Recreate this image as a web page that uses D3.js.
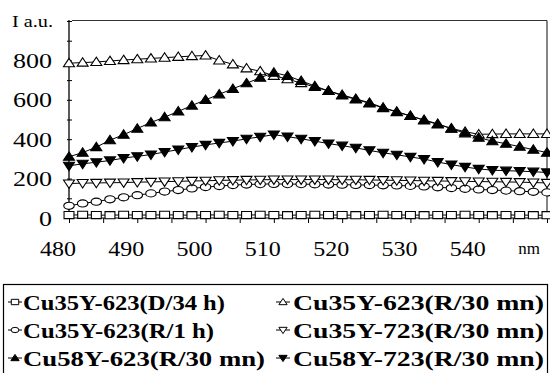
<!DOCTYPE html>
<html>
<head>
<meta charset="utf-8">
<script src="https://cdn.jsdelivr.net/npm/d3@7"></script>
<style>
  body { margin: 0; background: #fff; }
</style>
</head>
<body>
<div id="chart"></div>
<script>
// wavelengths (nm), one point every 2 nm
const wavelengths = [480, 482, 484, 486, 488, 490, 492, 494, 496, 498, 500, 502, 504, 506, 508, 510, 512, 514,
  516, 518, 520, 522, 524, 526, 528, 530, 532, 534, 536, 538, 540, 542, 544, 546, 548, 550];

// intensities (a.u.)
const cu35_623_D34h = [15, 16, 15, 14, 16, 15, 15, 16, 15, 14, 15, 16, 15, 15, 16, 15, 14, 15,
  16, 15, 15, 14, 15, 16, 15, 15, 14, 15, 15, 16, 15, 14, 15, 15, 14, 14];
const cu35_623_R1h = [62, 74, 83, 95, 105, 116, 125, 134, 142, 150, 157, 162, 167, 170, 172, 173, 172, 172,
  171, 170, 169, 168, 167, 166, 165, 163, 160, 156, 152, 148, 145, 142, 139, 136, 133, 130];
const cu35_723_R30 = [175, 177, 178, 179, 180, 182, 183, 185, 186, 188, 189, 191, 192, 193, 194, 195, 195, 195,
  195, 195, 194, 194, 193, 192, 191, 190, 189, 188, 187, 186, 185, 184, 183, 182, 180, 178];
const cu58_723_R30 = [265, 275, 283, 292, 304, 313, 322, 335, 347, 360, 371, 381, 390, 402, 412, 423, 413, 402,
  390, 378, 367, 356, 343, 331, 321, 310, 299, 284, 271, 259, 249, 243, 240, 238, 235, 231];
const cu35_623_R30 = [786, 789, 792, 797, 802, 806, 810, 814, 818, 822, 825, 800, 780, 760, 745, 722, 705, 685,
  665, 645, 625, 605, 585, 560, 540, 518, 496, 475, 455, 438, 425, 426, 427, 427, 427, 427];
const cu58_623_R30 = [311, 332, 360, 395, 423, 454, 485, 512, 541, 571, 600, 628, 656, 684, 712, 738, 722, 696,
  670, 645, 622, 602, 582, 558, 538, 518, 498, 478, 454, 430, 408, 390, 377, 362, 347, 332];

const xTicks = [480, 490, 500, 510, 520, 530, 540];
const yTicks = [0, 200, 400, 600, 800];

const series = [
  { name: "Cu35Y-623(D/34 h)", values: cu35_623_D34h, shape: "square", fill: "#fff", col: 0, row: 0, w: 202 },
  { name: "Cu35Y-623(R/1 h)", values: cu35_623_R1h, shape: "circle", fill: "#fff", col: 0, row: 1, w: 191 },
  { name: "Cu35Y-723(R/30 mn)", values: cu35_723_R30, shape: "down", fill: "#fff", col: 1, row: 1, w: 251 },
  { name: "Cu58Y-723(R/30 mn)", values: cu58_723_R30, shape: "down", fill: "#000", col: 1, row: 2, w: 251 },
  { name: "Cu35Y-623(R/30 mn)", values: cu35_623_R30, shape: "up", fill: "#fff", col: 1, row: 0, w: 251 },
  { name: "Cu58Y-623(R/30 mn)", values: cu58_623_R30, shape: "up", fill: "#000", col: 0, row: 2, w: 242 }
];

const W = 550, H = 373;
const FONT = '"Liberation Serif"';
const svg = d3.select('#chart').append('svg')
  .attr('width', W)
  .attr('height', H);

const x = d3.scaleLinear().domain([480, 550]).range([69, 547]);
const y = d3.scaleLinear().domain([0, 1000]).range([218, 21]);

// marker shapes, k = size factor
function markerPath(shape, k) {
  const w = 5.5 * k, h = 4.2 * k;
  if (shape === "up") return `M0,${-h * 1.15}L${w},${h * 0.85}L${-w},${h * 0.85}Z`;
  if (shape === "down") return `M0,${h * 1.15}L${w},${-h * 0.85}L${-w},${-h * 0.85}Z`;
  if (shape === "square") return `M${-w * 0.9},${-h * 0.85}h${w * 1.8}v${h * 1.7}h${-w * 1.8}Z`;
  // ellipse
  const rx = w * 0.95, ry = h * 0.85;
  return `M${-rx},0a${rx},${ry} 0 1,0 ${2 * rx},0a${rx},${ry} 0 1,0 ${-2 * rx},0Z`;
}

// frame
svg.append('line').attr('x1', 72).attr('x2', 547).attr('y1', 20.5).attr('y2', 20.5)
  .style('stroke', '#333').style('stroke-width', 1.2);
svg.append('line').attr('x1', 547).attr('x2', 547).attr('y1', 20.5).attr('y2', 218)
  .style('stroke', '#333').style('stroke-width', 1.2);

// axes
const yAxis = d3.axisLeft(y).tickValues(d3.range(0, 1001, 100)).tickSize(3).tickFormat('');
svg.append('g').attr('transform', 'translate(69,0)').call(yAxis)
  .call(g => g.selectAll('line').attr('x2', 3).attr('x1', -2))
  .call(g => g.select('.domain').remove());
svg.append('line').attr('x1', 69).attr('x2', 69).attr('y1', 20).attr('y2', 218)
  .style('stroke', '#000').style('stroke-width', 1.3);

const xAxis = d3.axisBottom(x).tickValues(d3.range(480, 551, 5)).tickSize(5).tickFormat('');
svg.append('g').attr('transform', 'translate(0,218)').call(xAxis)
  .call(g => g.select('.domain').remove());
svg.append('line').attr('x1', 69).attr('x2', 547).attr('y1', 218).attr('y2', 218)
  .style('stroke', '#000').style('stroke-width', 1.2);

// tick labels
svg.append('g').selectAll('text')
  .data(yTicks)
  .join('text')
  .attr('x', 52)
  .attr('y', d => y(d) + 7.5)
  .attr('text-anchor', 'end')
  .attr('textLength', d => String(d).length * 13)
  .attr('lengthAdjust', 'spacingAndGlyphs')
  .style('font-family', FONT)
  .style('font-size', '21px')
  .text(d => d);

svg.append('g').selectAll('text')
  .data(xTicks)
  .join('text')
  .attr('x', d => x(d) - 11)
  .attr('y', 256)
  .attr('text-anchor', 'middle')
  .attr('textLength', 36)
  .attr('lengthAdjust', 'spacingAndGlyphs')
  .style('font-family', FONT)
  .style('font-size', '21px')
  .text(d => d);

svg.append('text').attr('x', 529).attr('y', 254).attr('text-anchor', 'middle')
  .style('font-family', FONT).style('font-size', '17px').text('nm');
svg.append('text').attr('x', 12).attr('y', 27)
  .attr('textLength', 41).attr('lengthAdjust', 'spacingAndGlyphs')
  .style('font-family', FONT).style('font-size', '16px').text('I a.u.');

// series lines + markers
const line = d3.line().x((d, i) => x(wavelengths[i])).y(d => y(d));
series.forEach(s => {
  svg.append('path')
    .datum(s.values)
    .attr('d', line)
    .style('fill', 'none')
    .style('stroke', '#000')
    .style('stroke-width', 1);
  svg.append('g').selectAll('path')
    .data(s.values)
    .join('path')
    .attr('transform', (d, i) => `translate(${x(wavelengths[i])},${y(d)})`)
    .attr('d', markerPath(s.shape, 1))
    .style('fill', s.fill)
    .style('stroke', '#000')
    .style('stroke-width', 1.1);
});

// legend
svg.append('rect')
  .attr('x', 3.5).attr('y', 284.5)
  .attr('width', 544).attr('height', 100)
  .style('fill', 'none').style('stroke', '#000').style('stroke-width', 1.2);

const legendItems = svg.selectAll('g.legendItem')
  .data(series)
  .join('g')
  .classed('legendItem', true)
  .attr('transform', d => `translate(${d.col === 0 ? 15 : 283},${302 + d.row * 28})`);

legendItems.append('line')
  .attr('x1', -7).attr('x2', 7)
  .style('stroke', '#000').style('stroke-width', 1);
legendItems.append('path')
  .attr('d', d => markerPath(d.shape, 0.75))
  .style('fill', d => d.fill)
  .style('stroke', '#000')
  .style('stroke-width', 1);
legendItems.append('text')
  .attr('x', d => d.col === 0 ? 8 : 10)
  .attr('y', 7.5)
  .attr('textLength', d => d.w)
  .attr('lengthAdjust', 'spacingAndGlyphs')
  .style('font-family', FONT)
  .style('font-size', '21px')
  .style('font-weight', 'bold')
  .text(d => d.name);
</script>
</body>
</html>
